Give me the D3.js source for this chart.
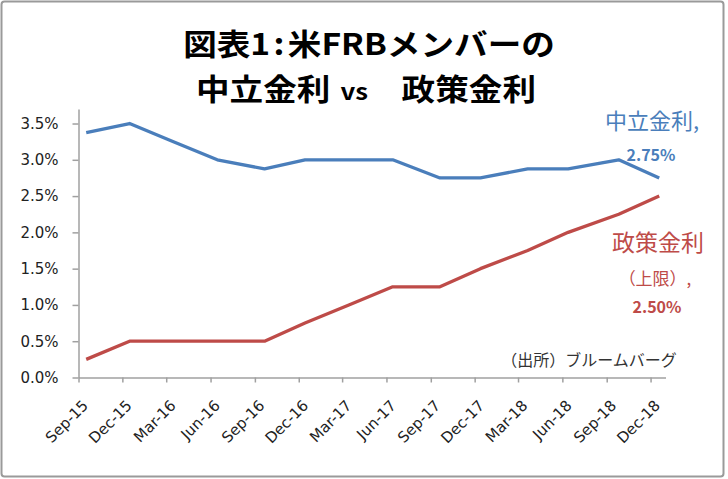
<!DOCTYPE html>
<html>
<head>
<meta charset="utf-8">
<script src="https://cdn.jsdelivr.net/npm/d3@7"></script>
<style>
  body { margin: 0; background: #fff; }
  svg { display: block; }
  .jp { font-family: "Noto Sans CJK JP", sans-serif; }
</style>
</head>
<body>
<script>
// data: FOMC meeting dates, neutral rate (median longer run) and policy rate (upper bound)
var meetingDates = ["2015-09-17", "2015-12-16", "2016-03-16", "2016-06-15", "2016-09-21", "2016-12-14",
                    "2017-03-15", "2017-06-14", "2017-09-20", "2017-12-13", "2018-03-21", "2018-06-13",
                    "2018-09-26", "2018-12-19"];
var neutralRate = [3.375, 3.5, 3.25, 3.0, 2.875, 3.0, 3.0, 3.0, 2.75, 2.75, 2.875, 2.875, 3.0, 2.75];
var policyRate  = [0.25, 0.5, 0.5, 0.5, 0.5, 0.75, 1.0, 1.25, 1.25, 1.5, 1.75, 2.0, 2.25, 2.5];
var xTickLabels = ["Sep-15", "Dec-15", "Mar-16", "Jun-16", "Sep-16", "Dec-16", "Mar-17",
                   "Jun-17", "Sep-17", "Dec-17", "Mar-18", "Jun-18", "Sep-18", "Dec-18"];
var yTicks = [0, 0.5, 1.0, 1.5, 2.0, 2.5, 3.0, 3.5];

// define width and height
var w = 728;
var h = 479;

var parseDate = d3.timeParse("%Y-%m-%d");
var parseTick = d3.timeParse("%b-%y");

var svg = d3.select("body")
            .append("svg")
            .attr("width", w)
            .attr("height", h);

// outer frame
svg.append("rect")
   .attr("x", 1.5)
   .attr("y", 1.5)
   .attr("width", 722)
   .attr("height", 475)
   .attr("rx", 3)
   .attr("fill", "#fff")
   .attr("stroke", "#9a9a9a")
   .attr("stroke-width", 2);

// scales
var xScale = d3.scaleTime()
               .domain([parseDate("2015-09-01"), parseDate("2019-01-01")])
               .range([78.5, 665.5]);

var yScale = d3.scaleLinear()
               .domain([0, 3.7])
               .range([377.5, 109]);

// y axis
var yAxis = svg.append("g")
               .attr("transform", "translate(" + xScale.range()[0] + ",0)")
               .call(d3.axisLeft(yScale)
                       .tickValues(yTicks)
                       .tickSize(6)
                       .tickPadding(14)
                       .tickSizeOuter(0)
                       .tickFormat(function(d) { return d3.format(".1f")(d) + "%"; }));

// x axis
var xAxis = svg.append("g")
               .attr("transform", "translate(0," + yScale(0) + ")")
               .call(d3.axisBottom(xScale)
                       .tickValues(xTickLabels.map(function(d) { return parseTick(d); }))
                       .tickSize(5)
                       .tickSizeOuter(0)
                       .tickFormat(d3.timeFormat("%b-%y")));

xAxis.selectAll("text")
     .attr("y", 0)
     .attr("dy", 0)
     .attr("text-anchor", "end")
     .attr("transform", "translate(10,29) rotate(-45)");

svg.selectAll(".domain, .tick line")
   .attr("stroke", "#a0a0a0")
   .attr("stroke-width", 1.5);

svg.selectAll(".tick text")
   .attr("fill", "#222")
   .style("font-family", "'DejaVu Sans', sans-serif")
   .style("font-size", "15px");

// lines
var line = d3.line()
             .x(function(d) { return xScale(d.date); })
             .y(function(d) { return yScale(d.value); });

var neutralData = meetingDates.map(function(d, i) { return {date: parseDate(d), value: neutralRate[i]}; });
var policyData = meetingDates.map(function(d, i) { return {date: parseDate(d), value: policyRate[i]}; });

svg.append("path")
   .datum(neutralData)
   .attr("d", line)
   .attr("fill", "none")
   .attr("stroke", "#4a7ebb")
   .attr("stroke-width", 3.3)
   .attr("stroke-linejoin", "round");

svg.append("path")
   .datum(policyData)
   .attr("d", line)
   .attr("fill", "none")
   .attr("stroke", "#be4b48")
   .attr("stroke-width", 3.3)
   .attr("stroke-linejoin", "round");

// title (two lines, glyphs a bit wide like the original)
var title1 = svg.append("text")
                .attr("class", "jp")
                .attr("transform", "translate(369,55) scale(1.12,1)")
                .attr("text-anchor", "middle")
                .attr("font-weight", "bold")
                .attr("font-size", 30)
                .attr("fill", "#000");
title1.append("tspan").text("図表1");
title1.append("tspan").attr("dx", 3).text(":");
title1.append("tspan").attr("dx", 3).text("米FRBメンバーの");

var title2 = svg.append("text")
                .attr("class", "jp")
                .attr("transform", "translate(366,100) scale(1.12,1)")
                .attr("text-anchor", "middle")
                .attr("font-weight", "bold")
                .attr("font-size", 30)
                .attr("fill", "#000");
title2.append("tspan").text("中立金利");
title2.append("tspan").attr("dx", 9).attr("font-size", 23).text("vs");
title2.append("tspan").attr("dx", 30).text("政策金利");

// labels for the lines
svg.append("text")
   .attr("class", "jp")
   .attr("x", 652).attr("y", 129)
   .attr("text-anchor", "middle")
   .attr("font-size", 22)
   .attr("fill", "#4a7ebb")
   .text("中立金利,");

svg.append("text")
   .attr("class", "jp")
   .attr("x", 651).attr("y", 161)
   .attr("text-anchor", "middle")
   .attr("font-size", 16)
   .attr("font-weight", "bold")
   .attr("fill", "#4a7ebb")
   .text("2.75%");

svg.append("text")
   .attr("class", "jp")
   .attr("x", 658).attr("y", 251)
   .attr("text-anchor", "middle")
   .attr("font-size", 23)
   .attr("fill", "#be4b48")
   .text("政策金利");

svg.append("text")
   .attr("class", "jp")
   .attr("x", 655).attr("y", 285)
   .attr("text-anchor", "middle")
   .attr("font-size", 17)
   .attr("fill", "#be4b48")
   .text("（上限）,");

svg.append("text")
   .attr("class", "jp")
   .attr("x", 657).attr("y", 313)
   .attr("text-anchor", "middle")
   .attr("font-size", 16)
   .attr("font-weight", "bold")
   .attr("fill", "#be4b48")
   .text("2.50%");

// source
svg.append("text")
   .attr("class", "jp")
   .attr("x", 589).attr("y", 366)
   .attr("text-anchor", "middle")
   .attr("font-size", 16)
   .attr("fill", "#333")
   .text("（出所）ブルームバーグ");
</script>
</body>
</html>
